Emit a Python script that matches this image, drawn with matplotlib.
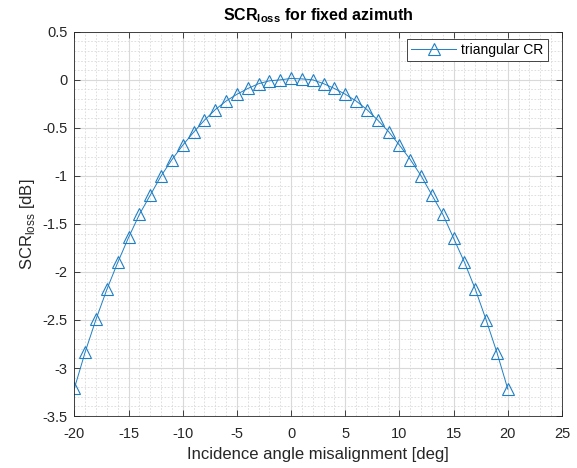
import numpy as np
import matplotlib.pyplot as plt
from matplotlib.ticker import MultipleLocator, FormatStrFormatter

plt.rcParams['font.family'] = ['Liberation Sans', 'DejaVu Sans']
plt.rcParams['axes.unicode_minus'] = False
plt.rcParams['mathtext.fontset'] = 'custom'
plt.rcParams['mathtext.rm'] = 'Liberation Sans'
plt.rcParams['mathtext.bf'] = 'Liberation Sans:bold'

# ==============================
# Data
# ==============================

angle = list(range(-20, 21))
scr_loss = [-3.21, -2.83, -2.49, -2.18, -1.90, -1.64, -1.40, -1.20, -1.00, -0.83,
            -0.68, -0.545, -0.42, -0.31, -0.22, -0.15, -0.09, -0.04, -0.01, 0.0,
            0.015,
            0.01, 0.0, -0.04, -0.09, -0.15, -0.22, -0.31, -0.42, -0.54, -0.68,
            -0.83, -1.00, -1.20, -1.40, -1.65, -1.90, -2.18, -2.50, -2.84, -3.22]

xticks = [-20, -15, -10, -5, 0, 5, 10, 15, 20, 25]
yticks = [0.5, 0, -0.5, -1, -1.5, -2, -2.5, -3, -3.5]

# ==============================
# Plot
# ==============================

fig = plt.figure(figsize=(5.77, 4.68), dpi=100)
ax = fig.add_axes([0.129, 0.111, 0.845, 0.821])

ax.plot(angle, scr_loss, color='#1f7fc4', linewidth=0.7, marker='^',
        markersize=8, markerfacecolor='none', markeredgewidth=0.8,
        label='triangular CR')

ax.set_xlim(-20, 25)
ax.set_ylim(-3.5, 0.5)
ax.set_xticks(xticks)
ax.set_yticks(yticks)
ax.yaxis.set_major_formatter(FormatStrFormatter('%g'))
ax.xaxis.set_minor_locator(MultipleLocator(1))
ax.yaxis.set_minor_locator(MultipleLocator(0.1))

ax.grid(True, which='major', color='#d9d9d9', linewidth=0.8)
ax.grid(True, which='minor', color='#d9d9d9', linewidth=0.6, linestyle=(0, (2, 2)))
ax.set_axisbelow(True)

ax.tick_params(which='both', direction='in', top=True, right=True,
               colors='#262626', labelsize=10.5)
ax.tick_params(which='minor', length=0)
ax.tick_params(which='major', length=4, width=0.6)
ax.tick_params(axis='x', pad=8)
ax.tick_params(axis='y', pad=5)
for s in ax.spines.values():
    s.set_color('#262626')
    s.set_linewidth(0.6)

ax.set_title(r'SCR$_{\mathbf{loss}}$ for fixed azimuth', fontsize=11.5,
             fontweight='bold', color='black', pad=8)
ax.set_xlabel('Incidence angle misalignment [deg]', fontsize=12, color='#262626',
              labelpad=4)
ax.set_ylabel(r'SCR$_{\mathrm{loss}}$ [dB]', fontsize=12, color='#262626')

leg = ax.legend(loc='upper right', bbox_to_anchor=(0.971, 0.981), fontsize=10,
                fancybox=False, edgecolor='#262626', framealpha=1,
                borderaxespad=0, borderpad=0.3, handlelength=3.2,
                handletextpad=0.4)
leg.get_frame().set_linewidth(0.6)

fig.savefig('out.png', dpi=100)
